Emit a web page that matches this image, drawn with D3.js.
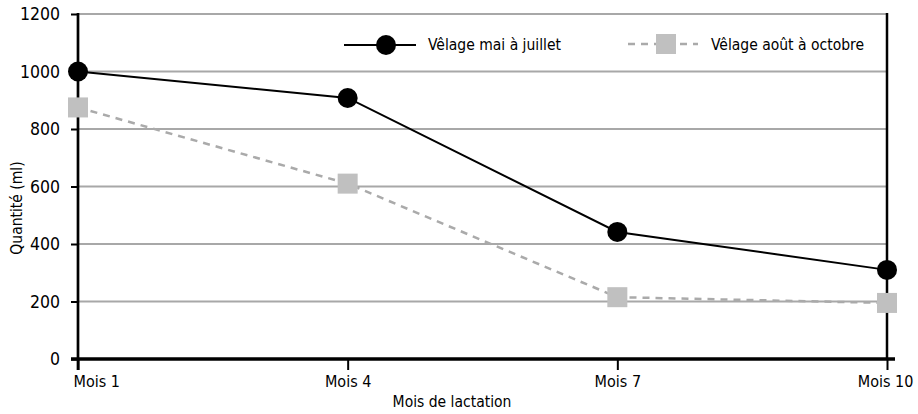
<html>
<style>
  body { margin: 0; background: #fff; }
  text { font-family: "DejaVu Sans Condensed", "DejaVu Sans", sans-serif; font-stretch: condensed; fill: #000; }
</style>
<body>
<script src="https://d3js.org/d3.v7.min.js"></script>
<script>
// data
const months = ["Mois 1", "Mois 4", "Mois 7", "Mois 10"];
const mayJuly = [1000, 908, 442, 310];
const augOct = [875, 610, 215, 195];
const yTicks = [0, 200, 400, 600, 800, 1000, 1200];
const seriesNames = ["Vêlage mai à juillet", "Vêlage août à octobre"];

const W = 918, H = 414;
const m = {left: 78, right: 887, top: 14, bottom: 359};
const font = '"DejaVu Sans Condensed", "DejaVu Sans", sans-serif';

const svg = d3.select("body").append("svg")
    .attr("width", W).attr("height", H);

const x = d3.scalePoint().domain(months).range([m.left, m.right]);
const y = d3.scaleLinear().domain([0, 1200]).range([m.bottom, m.top]);

// grid
svg.append("g").selectAll("line")
    .data(yTicks.filter(d => d > 0))
    .join("line")
    .attr("x1", m.left).attr("x2", m.right)
    .attr("y1", y).attr("y2", y)
    .attr("stroke", "#a8a8a8").attr("stroke-width", 2);

// right border
svg.append("line")
    .attr("x1", m.right).attr("x2", m.right)
    .attr("y1", m.top - 1).attr("y2", m.bottom)
    .attr("stroke", "#000").attr("stroke-width", 2.5);

// y axis
const yAxis = svg.append("g")
    .attr("transform", `translate(${m.left},0)`)
    .call(d3.axisLeft(y).tickValues(yTicks).tickFormat(d3.format("d"))
        .tickSize(7).tickPadding(11));
yAxis.select(".domain").attr("stroke-width", 2.7).attr("d", `M0,${m.top - 1}V${m.bottom + 11}`);
yAxis.selectAll(".tick line").attr("stroke-width", 2);
yAxis.selectAll("text").style("font-size", "17.5px").style("font-family", font);

// x axis
const xAxis = svg.append("g")
    .attr("transform", `translate(0,${m.bottom})`)
    .call(d3.axisBottom(x).tickSize(11).tickPadding(6).tickSizeOuter(0));
xAxis.select(".domain").attr("stroke-width", 3.3).attr("d", `M${m.left - 7},0H${m.right + 8}`);
xAxis.selectAll(".tick line").attr("stroke-width", 2);
xAxis.selectAll("text").style("font-size", "16px").style("font-family", font);
xAxis.selectAll("text").filter((d, i) => i === 0)
    .attr("text-anchor", "start").attr("x", -5);
xAxis.selectAll("text").filter((d, i) => i === months.length - 1)
    .attr("x", -2);

// axis titles
svg.append("text")
    .attr("transform", `translate(22,208) rotate(-90)`)
    .attr("text-anchor", "middle")
    .style("font-size", "15.5px")
    .text("Quantité (ml)");
svg.append("text")
    .attr("x", 452).attr("y", 407)
    .attr("text-anchor", "middle")
    .style("font-size", "15.5px")
    .text("Mois de lactation");

const line = d3.line().x((d, i) => x(months[i])).y(d => y(d));

// series 2 (dashed, grey squares)
svg.append("path")
    .datum(augOct)
    .attr("d", line)
    .attr("fill", "none")
    .attr("stroke", "#aaaaaa")
    .attr("stroke-width", 2.5)
    .attr("stroke-dasharray", "7,6");
svg.append("g").selectAll("rect")
    .data(augOct)
    .join("rect")
    .attr("x", (d, i) => x(months[i]) - 10)
    .attr("y", d => y(d) - 10)
    .attr("width", 20).attr("height", 20)
    .attr("fill", "#c0c0c0");

// series 1 (black circles)
svg.append("path")
    .datum(mayJuly)
    .attr("d", line)
    .attr("fill", "none")
    .attr("stroke", "#000")
    .attr("stroke-width", 2);
svg.append("g").selectAll("circle")
    .data(mayJuly)
    .join("circle")
    .attr("cx", (d, i) => x(months[i]))
    .attr("cy", d => y(d))
    .attr("r", 10)
    .attr("fill", "#000");

// legend
const lg = svg.append("g");
lg.append("line").attr("x1", 344).attr("x2", 416).attr("y1", 45).attr("y2", 45)
    .attr("stroke", "#000").attr("stroke-width", 2);
lg.append("circle").attr("cx", 386).attr("cy", 45).attr("r", 10).attr("fill", "#000");
lg.append("text").attr("x", 428).attr("y", 50).style("font-size", "15.5px").text(seriesNames[0]);

lg.append("line").attr("x1", 628).attr("x2", 698).attr("y1", 44).attr("y2", 44)
    .attr("stroke", "#aaaaaa").attr("stroke-width", 2.5).attr("stroke-dasharray", "7,6");
lg.append("rect").attr("x", 656).attr("y", 34).attr("width", 20).attr("height", 20).attr("fill", "#c0c0c0");
lg.append("text").attr("x", 711).attr("y", 50).style("font-size", "15.5px").text(seriesNames[1]);
</script>
</body>
</html>
